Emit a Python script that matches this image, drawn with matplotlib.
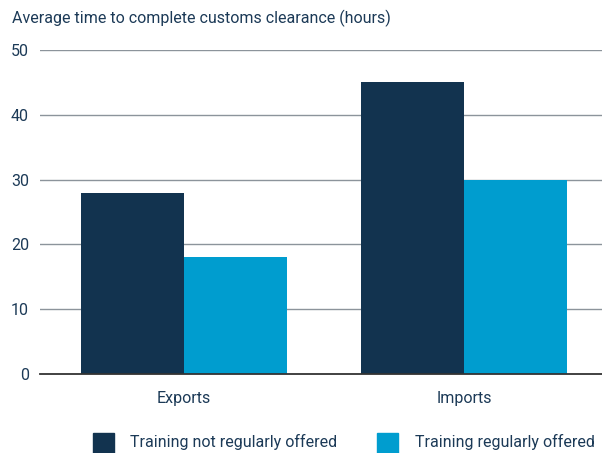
import matplotlib
matplotlib.use("Agg")
import matplotlib.pyplot as plt
from matplotlib.patches import Rectangle

categories = ["Exports", "Imports"]
series_names = ["Training not regularly offered", "Training regularly offered"]
not_offered = [28, 45]
offered = [18, 30]
yticks = [0, 10, 20, 30, 40, 50]

plt.rcParams["font.family"] = ["Roboto", "DejaVu Sans"]

dark = "#12334f"
light = "#009dcf"
txt = "#1c3a57"
FS = 11.5

W, H = 602, 453
fig = plt.figure(figsize=(W/100, H/100), dpi=100)
ax = fig.add_axes([40/W, 1-374/H, 562/W, 324/H])

x = [0, 1]
w = 0.368
ax.bar([i - w/2 for i in x], not_offered, width=w, color=dark, zorder=3)
ax.bar([i + w/2 for i in x], offered, width=w, color=light, zorder=3)

ax.set_xlim(-0.514, 1.493)
ax.set_ylim(0, 50)
ax.set_yticks(yticks)
ax.set_yticklabels([str(t) for t in yticks], fontsize=FS, color=txt)
ax.set_xticks(x)
ax.set_xticklabels(categories, fontsize=FS, color=txt)
ax.tick_params(axis="y", length=0, pad=8)
ax.tick_params(axis="x", length=0, pad=12)
for t in yticks[1:]:
    ax.axhline(t, color="#8c949b", lw=1, zorder=1)
for s in ["top", "right", "left"]:
    ax.spines[s].set_visible(False)
ax.spines["bottom"].set_color("#333333")
ax.spines["bottom"].set_linewidth(1.3)
ax.spines["bottom"].set_zorder(4)

fig.text(12/W, 1-18/H, "Average time to complete customs clearance (hours)",
         fontsize=FS, color=txt, va="center", ha="left")

# legend drawn manually
leg_items = [(93, 130, dark, series_names[0]), (377, 415, light, series_names[1])]
for sx, tx, col, lab in leg_items:
    fig.add_artist(Rectangle((sx/W, 0), 21/W, 20/H, transform=fig.transFigure,
                             color=col, clip_on=False))
    fig.text(tx/W, 1-442/H, lab, fontsize=FS, color=txt, va="center", ha="left")

fig.savefig("out.png", dpi=100)
